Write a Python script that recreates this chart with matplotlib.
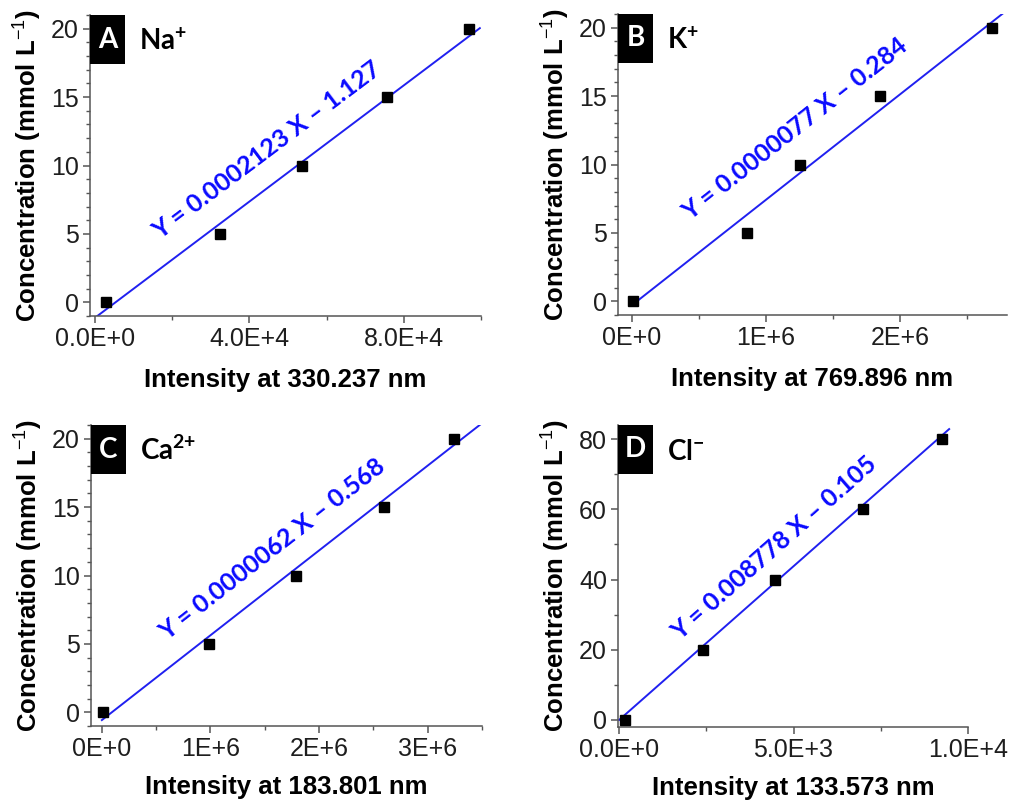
import matplotlib
matplotlib.use("Agg")
import numpy as np
import matplotlib.pyplot as plt
from matplotlib.patches import Rectangle
from matplotlib.ticker import FixedLocator, MultipleLocator

plt.rcParams['font.family'] = ['Liberation Sans', 'DejaVu Sans']
plt.rcParams['mathtext.fontset'] = 'custom'
plt.rcParams['mathtext.rm'] = 'Liberation Sans'
plt.rcParams['mathtext.bf'] = 'Lato:bold'
plt.rcParams['mathtext.default'] = 'rm'

# ---- calibration data ----
conc_low = [0, 5, 10, 15, 20]          # mmol/L standards for Na, K, Ca
conc_cl = [0, 20, 40, 60, 80]          # mmol/L standards for Cl
na_intensity = [2770, 32360, 53680, 75680, 96830]
k_intensity = [5000, 856000, 1253000, 1854000, 2685000]
ca_intensity = [15000, 988000, 1788000, 2594000, 3240000]
cl_intensity = [184, 2411, 4469, 7004, 9254]

# linear fits: Y = slope * X + intercept
slopes = [0.0002123, 0.0000077, 0.0000062, 0.008778]
intercepts = [-1.127, -0.284, -0.568, -0.105]
slope_decimals = [7, 7, 7, 6]

panel_letters = ['A', 'B', 'C', 'D']
ion_labels = [r'Na$^{\mathbf{+}}$', r'K$^{\mathbf{+}}$',
              r'Ca$^{\mathbf{2{+}}}$', r'Cl$^{\mathbf{-}}$']
wavelengths = ['330.237', '769.896', '183.801', '133.573']

xtick_values = [[0, 4e4, 8e4], [0, 1e6, 2e6], [0, 1e6, 2e6, 3e6], [0, 5e3, 1e4]]
xtick_labels = [['0.0E+0', '4.0E+4', '8.0E+4'],
                ['0E+0', '1E+6', '2E+6'],
                ['0E+0', '1E+6', '2E+6', '3E+6'],
                ['0.0E+0', '5.0E+3', '1.0E+4']]
ytick_values = [[0, 5, 10, 15, 20]] * 3 + [[0, 20, 40, 60, 80]]

# ---- layout / styling ----
W, H = 1011, 800
axes_px = [(90, 481, 15, 316), (618, 1007, 14, 315),
           (91, 482, 425, 726), (618, 968, 425, 727)]   # left, right, top, bottom
xlims = [(-1300, 1.0e5), (-1.04e5, 2.8e6), (-1.0e5, 3.5e6), (-30, 1.0e4)]
ylims = [(-1, 21), (-1, 21), (-1, 21), (-2.1, 84.1)]
xminor = [2e4, 5e5, 5e5, 2.5e3]
yminor = [1, 1, 1, 10]
fit_span = [(0, 99700), (0, 2.8e6), (0, 3.5e6), (0, 9460)]
eq_pos = [(44660, 11.1), (1.216e6, 12.58), (1.57e6, 11.95), (4446, 49.1)]
xlabel_pad = [12.5, 12.5, 10, 10]

xs = [na_intensity, k_intensity, ca_intensity, cl_intensity]
ys = [conc_low, conc_low, conc_low, conc_cl]

spine_col = '#555555'
line_col = '#2020f0'
eq_col = '#0a0aff'

fig = plt.figure(figsize=(W / 100, H / 100), dpi=100)

for i in range(4):
    l, r, t, b = axes_px[i]
    ax = fig.add_axes([l / W, 1 - b / H, (r - l) / W, (b - t) / H])
    ax.set_xlim(*xlims[i])
    ax.set_ylim(*ylims[i])
    for s in ('top', 'right'):
        ax.spines[s].set_visible(False)
    for s in ('left', 'bottom'):
        ax.spines[s].set_color(spine_col)
        ax.spines[s].set_linewidth(1.1)

    ax.xaxis.set_major_locator(FixedLocator(xtick_values[i]))
    ax.set_xticklabels(xtick_labels[i])
    ax.yaxis.set_major_locator(FixedLocator(ytick_values[i]))
    ax.xaxis.set_minor_locator(MultipleLocator(xminor[i]))
    ax.yaxis.set_minor_locator(MultipleLocator(yminor[i]))
    ax.tick_params(which='major', direction='out', length=5, width=1.1,
                   color=spine_col, labelsize=18, labelcolor='#1e1e1e', pad=3)
    ax.tick_params(which='minor', direction='out', length=3, width=1.0,
                   color=spine_col)

    ax.set_xlabel(f'Intensity at {wavelengths[i]} nm', fontsize=18.5,
                  fontweight='bold', labelpad=xlabel_pad[i])
    ax.set_ylabel(r'Concentration (mmol L$^{-1}$)', fontsize=18.5,
                  fontweight='bold', labelpad=5)

    # fitted line
    xf = np.array(fit_span[i])
    yf = slopes[i] * xf + intercepts[i]
    ax.plot(xf, yf, color=line_col, lw=1.4, zorder=2)

    # standards
    ax.plot(xs[i], ys[i], 's', color='black', ms=6.8, zorder=3, clip_on=False)

    # equation along the line
    p0 = ax.transData.transform((xf[0], yf[0]))
    p1 = ax.transData.transform((xf[1], yf[1]))
    ang = np.degrees(np.arctan2(p1[1] - p0[1], p1[0] - p0[0]))
    eq = (f'Y = {slopes[i]:.{slope_decimals[i]}f} X \u2013 '
          f'{abs(intercepts[i]):.3f}')
    ax.text(eq_pos[i][0], eq_pos[i][1], eq, rotation=ang,
            rotation_mode='anchor', ha='center', va='center',
            fontsize=18, fontweight='bold', family='Lato', color=eq_col,
            zorder=4)

    # panel letter box
    aw, ah = r - l, b - t
    bw, bh = 35, 49
    ax.add_patch(Rectangle((0, 1 - bh / ah), bw / aw, bh / ah,
                           transform=ax.transAxes, facecolor='black',
                           edgecolor='none', clip_on=False, zorder=5))
    ax.text(bw / 2 / aw, 1 - bh / 2 / ah, panel_letters[i],
            transform=ax.transAxes, ha='center', va='center', color='white',
            fontsize=20, fontweight='bold', family='Lato', zorder=6)
    ax.text(49 / aw, 1 - 35 / ah, ion_labels[i], transform=ax.transAxes,
            ha='left', va='baseline', color='black', fontsize=20,
            fontweight='bold', family='Lato', zorder=6)

fig.savefig('out.png', dpi=100)
